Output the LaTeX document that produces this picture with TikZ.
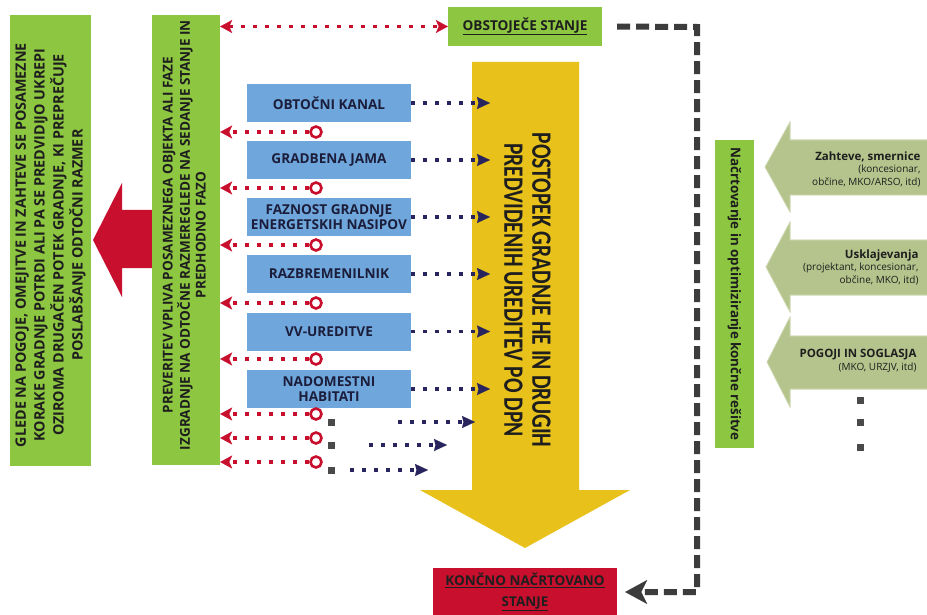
\documentclass[tikz,border=0pt]{standalone}
\usepackage{fontspec}
\setmainfont{Open Sans}
\newfontfamily\carlito{Carlito}
\usepackage{graphicx}
\usetikzlibrary{arrows.meta}
\definecolor{lgreen}{HTML}{8DC641}
\definecolor{yellowc}{HTML}{E8C21B}
\definecolor{bluefill}{HTML}{6FA7DC}
\definecolor{redc}{HTML}{C8102E}
\definecolor{navyc}{HTML}{28245E}
\definecolor{navytxt}{HTML}{1B1D3A}
\definecolor{olivec}{HTML}{B5C48C}
\definecolor{dashgray}{HTML}{3C3C3C}
\definecolor{txtdark}{HTML}{1E1E1E}
\definecolor{sqgray}{HTML}{4A4A4A}
\tikzset{
  greenbox/.style={fill=lgreen, text=txtdark, align=center, inner sep=0pt},
  bluebox/.style={fill=bluefill, text=navytxt, minimum width=164pt, minimum height=38pt,
    align=center, inner sep=0pt, font=\fontsize{13.6}{15}\selectfont\bfseries},
  reddots/.style={draw=redc, line width=3.8pt, dash pattern=on 3.8pt off 8.2pt,
    -{Stealth[length=12pt,width=13pt,inset=3pt,line width=0.1pt]}},
  navydots/.style={draw=navyc, line width=3.5pt, dash pattern=on 3.5pt off 8.5pt,
    -{Stealth[length=13pt,width=12pt,inset=1.5pt,line width=0.1pt]}},
  ring/.style={circle, draw=redc, line width=2.6pt, fill=white, minimum size=11pt, inner sep=0pt},
  sq/.style={fill=sqgray, minimum size=7pt, inner sep=0pt},
  darkdash/.style={draw=dashgray, line width=6pt, dash pattern=on 13pt off 6pt},
  olivearrow/.style={fill=olivec, draw=olivec!60!white, line width=0.6pt},
  arrtext/.style={anchor=east, align=right, text=txtdark, font=\fontsize{10}{12.5}\selectfont},
}
\begin{document}
\begin{tikzpicture}[x=1pt,y=-1pt]
\useasboundingbox[fill=white] (0,0) rectangle (927,615);

% big red arrow (behind the second green box)
\fill[redc] (160,210) -- (122,210) -- (122,183) -- (93,240) -- (122,297) -- (122,268) -- (160,268) -- cycle;

% yellow arrow
\fill[yellowc] (472,62) -- (579,62) -- (579,490) -- (630,490) -- (525,548) -- (420,490) -- (472,490) -- cycle;
\node[rotate=-90, text=txtdark, inner sep=0pt] (ytext) at (524,290)
  {\scalebox{0.77}[1]{\carlito\fontsize{28}{28}\selectfont\bfseries
   \begin{tabular}{@{}c@{}}POSTOPEK GRADNJE HE IN DRUGIH\\PREDVIDENIH UREDITEV PO DPN\end{tabular}}};

% green boxes
\node[greenbox, rotate=90, minimum width=451pt, minimum height=81pt] (left) at (50.5,240.5)
  {\resizebox{404pt}{!}{\fontsize{13}{17}\selectfont\bfseries
   \begin{tabular}{@{}c@{}}GLEDE NA POGOJE, OMEJITVE IN ZAHTEVE SE POSAMEZNE\\KORAKE GRADNJE POTRDI ALI PA SE PREDVIDIJO UKREPI\\OZIROMA DRUGAČEN POTEK GRADNJE, KI PREPREČUJE\\POSLABŠANJE ODTOČNI RAZMER\end{tabular}}\hspace*{9pt}};
\node[greenbox, rotate=90, minimum width=450pt, minimum height=68pt] (check) at (186,240)
  {\hspace*{10pt}\resizebox{430pt}{!}{\fontsize{13}{15}\selectfont\bfseries
   \begin{tabular}{@{}c@{}}PREVERITEV VPLIVA POSAMEZNEGA OBJEKTA ALI FAZE\\IZGRADNJE NA ODTOČNE RAZMEREGLEDE NA SEDANJE STANJE IN\\PREDHODNO FAZO\end{tabular}}};
\node[greenbox, minimum width=154pt, minimum height=39pt,
  font=\fontsize{13.6}{14}\selectfont\bfseries] (obst) at (525,26.5) {\underline{OBSTOJEČE STANJE}};
\node[greenbox, rotate=-90, minimum width=308pt, minimum height=39pt,
  font=\fontsize{13.4}{14}\selectfont\bfseries] (plan) at (734.5,294) {Načrtovanje in optimiziranje končne rešitve};

% final state
\node[fill=redc, text=txtdark, align=center, inner sep=0pt, minimum width=184pt, minimum height=48pt,
  font=\fontsize{13.5}{21}\selectfont\bfseries] (konc) at (525,592)
  {\underline{KONČNO NAČRTOVANO}\\\underline{STANJE}};

% blue boxes
\node[bluebox] (b1) at (329,103) {OBTOČNI KANAL};
\node[bluebox] (b2) at (329,160) {GRADBENA JAMA};
\node[bluebox] (b3) at (329,217) {FAZNOST GRADNJE\\ENERGETSKIH NASIPOV};
\node[bluebox] (b4) at (329,274) {RAZBREMENILNIK};
\node[bluebox] (b5) at (329,331.5) {VV-UREDITVE};
\node[bluebox] (b6) at (329,389) {NADOMESTNI\\HABITATI};

% navy arrows into the yellow arrow
\foreach \b in {b1,b2,b3,b4,b5,b6}{
  \coordinate (\b t) at (490,0 |- \b.east);
  \draw[navydots] (\b.east) -- (\b t);
}

% red dotted arrows with rings (check is rotated: its right side is check.south)
\foreach \i/\y in {1/132,2/188,3/245,4/303,5/359,6/414,7/438,8/462}{
  \node[ring] (r\i) at (316,\y) {};
  \draw[reddots] (r\i.west) -- (check.south |- r\i);
}

% top double arrow
\draw[reddots, {Stealth[length=12pt,width=13pt,inset=3pt,line width=0.1pt]}-{Stealth[length=12pt,width=13pt,inset=3pt,line width=0.1pt]}]
  (check.south |- obst.west) -- (obst.west);

% extra rows
\node[sq] (s1) at (331,422) {};
\node[sq] (s2) at (331,445) {};
\node[sq] (s3) at (331,470) {};
\coordinate (e1a) at (398,422); \coordinate (e1b) at (475,422);
\coordinate (e2a) at (369,445); \coordinate (e2b) at (447,445);
\coordinate (e3a) at (350,470); \coordinate (e3b) at (428,470);
\draw[navydots] (e1a) -- (e1b);
\draw[navydots] (e2a) -- (e2b);
\draw[navydots] (e3a) -- (e3b);

% dark dashed connector
\coordinate (c1) at (697,27);
\coordinate (c2) at (697,592);
\draw[darkdash, -{Stealth[length=22pt,width=24pt,inset=6pt,line width=0.1pt]}, shorten <=15pt, shorten >=8pt]
  (obst.east) -- (c1) -- (c2) -- (konc.east);

% olive arrows on the right
\fill[olivearrow] (928,140) -- (790,140) -- (790,122) -- (765,167) -- (790,212) -- (790,195) -- (928,195) -- cycle;
\fill[olivearrow] (928,240) -- (790,240) -- (790,222) -- (766,267) -- (790,312) -- (790,295) -- (928,295) -- cycle;
\fill[olivearrow] (928,336) -- (790,336) -- (790,317) -- (767,362) -- (790,407) -- (790,389) -- (928,389) -- cycle;
\draw[olivearrow] (928,140) -- (790,140) -- (790,122) -- (765,167) -- (790,212) -- (790,195) -- (928,195);
\draw[olivearrow] (928,240) -- (790,240) -- (790,222) -- (766,267) -- (790,312) -- (790,295) -- (928,295);
\draw[olivearrow] (928,336) -- (790,336) -- (790,317) -- (767,362) -- (790,407) -- (790,389) -- (928,389);

\node[arrtext] (t1) at (924,169) {{\fontsize{11.5}{13}\selectfont\bfseries Zahteve, smernice}\\(koncesionar,\\občine, MKO/ARSO, itd)};
\node[arrtext] (t2) at (922,267) {{\fontsize{11.5}{13}\selectfont\bfseries Usklajevanja}\\(projektant, koncesionar,\\občine, MKO, itd)};
\node[arrtext] (t3) at (920,361) {{\fontsize{11.5}{13}\selectfont\bfseries POGOJI IN SOGLASJA}\\(MKO, URZJV, itd)};

% vertical dots
\node[sq] (v1) at (860,400) {};
\node[sq] (v2) at (860,422) {};
\node[sq] (v3) at (860,447) {};
\end{tikzpicture}
\end{document}
